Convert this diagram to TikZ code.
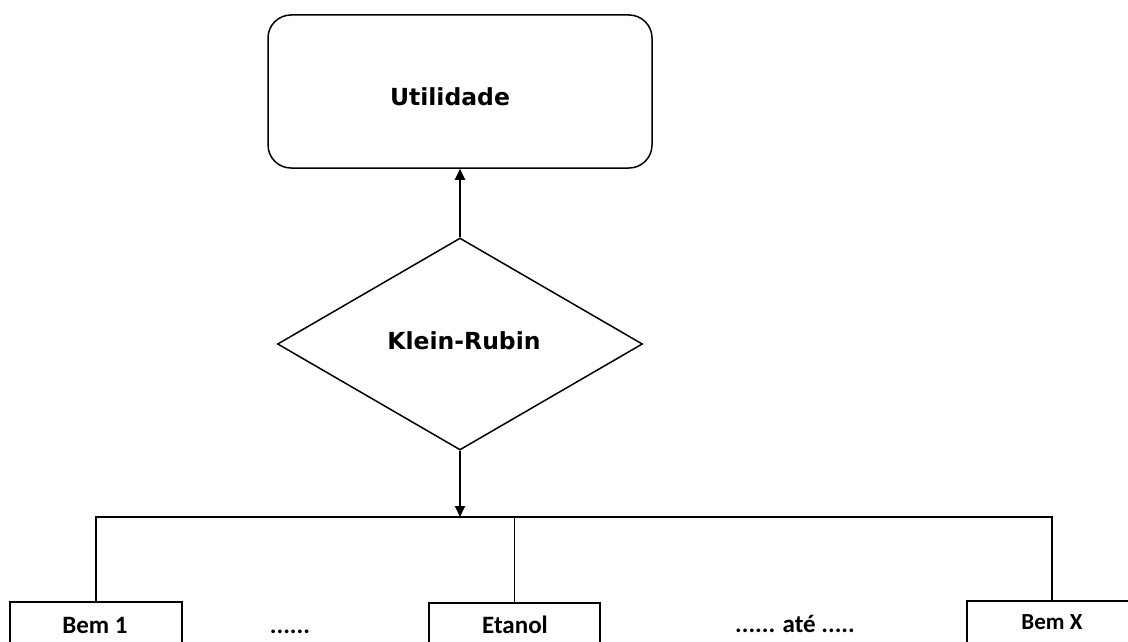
\documentclass[tikz,border=0pt]{standalone}
\usepackage{fontspec}
\setmainfont{Carlito}
\newfontfamily\djv{DejaVu Sans}
\usetikzlibrary{shapes.geometric,arrows.meta}
\tikzset{
  shapeline/.style={draw=black,line width=1.5pt},
  boxnode/.style={shapeline,rectangle,inner sep=0pt,minimum width=172pt,minimum height=60pt,anchor=north},
  toptext/.style={anchor=base,inner sep=0pt,font=\djv\bfseries\fontsize{23.5}{28}\selectfont},
  bottext/.style={anchor=base,inner sep=0pt,font=\bfseries\fontsize{25}{30}\selectfont},
  arr/.style={line width=2pt,-{Triangle[length=11pt,width=10pt]}},
  bus/.style={line width=1.5pt}
}
\begin{document}
\begin{tikzpicture}[x=1pt,y=-1pt]
\clip (0,0) rectangle (1128,642);
\fill[white] (0,0) rectangle (1128,642);
% shapes
\node[shapeline,rectangle,rounded corners=23pt,minimum width=384pt,minimum height=153pt,inner sep=0pt] (util) at (460,91.5) {};
\node[shapeline,diamond,minimum width=365pt,minimum height=212pt,inner sep=0pt] (kr) at (460,344) {};
\node[boxnode] (bem1) at (96,601) {};
\node[boxnode,minimum width=171pt] (etanol) at (514.5,602) {};
\node[boxnode,minimum width=170pt] (bemx) at (1052,600) {};
% texts
\node[toptext] (tutil) at (450,106) {Utilidade};
\node[toptext] (tkr) at (464,349) {Klein-Rubin};
\node[bottext] (tbem1) at (95,633) {Bem 1};
\node[bottext] (tdots) at (290,633) {......};
\node[bottext] (tetanol) at (515,633) {Etanol};
\node[bottext] (tate) at (795,632) {...... até .....};
\node[bottext,font=\bfseries\fontsize{23}{28}\selectfont] (tbemx) at (1052,629) {Bem X};
% connectors
\coordinate (jn) at (460,517);
\draw[arr] (kr.north) -- (util.south);
\draw[arr] (kr.south) -- (jn);
\draw[bus] (bem1.north) -- (bem1.north |- jn) -- (bemx.north |- jn) -- (bemx.north);
\draw[bus] (etanol.north) -- (etanol.north |- jn);
\end{tikzpicture}
\end{document}
